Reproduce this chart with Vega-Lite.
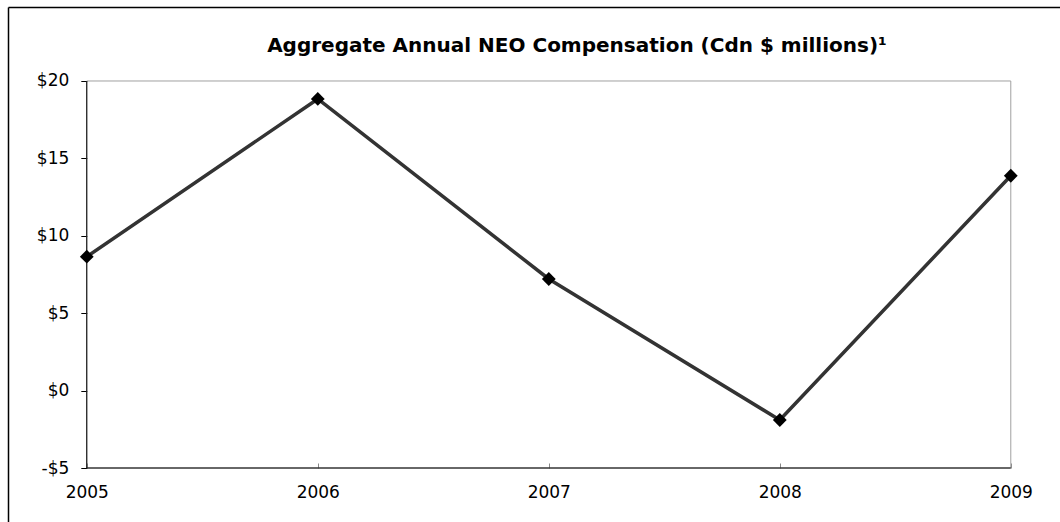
{
  "$schema": "https://vega.github.io/schema/vega-lite/v6.json",
  "width": 1052,
  "height": 515,
  "padding": {"left": 8, "top": 7, "right": 0, "bottom": 0},
  "autosize": {"type": "none"},
  "background": "white",
  "config": {
    "view": {"stroke": null},
    "axis": {"grid": false, "labelFont": "DejaVu Sans", "labelFontSize": 17, "labelColor": "black", "title": null}
  },
  "title": {
    "text": "Aggregate Annual NEO Compensation (Cdn $ millions)¹",
    "font": "DejaVu Sans",
    "fontSize": 20,
    "fontWeight": "bold",
    "color": "black",
    "anchor": "middle",
    "frame": "group",
    "baseline": "alphabetic",
    "offset": -65,
    "dx": 43
  },
  "data": {
    "values": [
      {"year": 2005, "comp": 8.65},
      {"year": 2006, "comp": 18.84},
      {"year": 2007, "comp": 7.21},
      {"year": 2008, "comp": -1.9},
      {"year": 2009, "comp": 13.88}
    ]
  },
  "resolve": {"axis": {"x": "independent", "y": "independent"}},
  "layer": [
    {
      "data": {"values": [{}]},
      "mark": {"type": "rect", "fill": null, "stroke": "#a0a0a0", "strokeWidth": 1},
      "encoding": {
        "x": {"datum": 2005, "type": "quantitative",
              "scale": {"domain": [2004.659, 2009.213], "nice": false, "zero": false},
              "axis": {"orient": "top", "domainColor": "black", "domainWidth": 1.5, "ticks": false, "labels": false}},
        "x2": {"datum": 2009},
        "y": {"datum": -5, "type": "quantitative",
              "scale": {"domain": [-8.488, 24.78], "nice": false, "zero": false},
              "axis": {"orient": "left", "domainColor": "black", "domainWidth": 1.5, "ticks": false, "labels": false}},
        "y2": {"datum": 20}
      }
    },
    {
      "data": {"values": [{}]},
      "mark": {"type": "rule", "color": "black", "strokeWidth": 1},
      "encoding": {
        "x": {"datum": 2005, "type": "quantitative", "axis": null},
        "y": {"datum": -5, "type": "quantitative", "axis": null},
        "y2": {"datum": 20}
      }
    },
    {
      "data": {"values": [{}]},
      "mark": {"type": "rule", "color": "black", "strokeWidth": 1},
      "encoding": {
        "x": {"datum": 2005, "type": "quantitative", "axis": null},
        "x2": {"datum": 2009},
        "y": {"datum": -5, "type": "quantitative", "axis": null}
      }
    },
    {
      "mark": {"type": "line", "color": "#333333", "strokeWidth": 3.5},
      "encoding": {
        "x": {"field": "year", "type": "quantitative",
              "axis": {"orient": "bottom", "offset": -54, "domain": false, "values": [2005, 2006, 2007, 2008, 2009],
                       "format": "d", "tickSize": -5, "tickColor": "#888888", "labelPadding": 21}},
        "y": {"field": "comp", "type": "quantitative",
              "axis": {"orient": "left", "offset": -78.8, "domain": false, "values": [-5, 0, 5, 10, 15, 20],
                       "tickSize": 6, "tickColor": "black", "labelPadding": 12,
                       "labelExpr": "datum.value < 0 ? '-$' + abs(datum.value) : '$' + datum.value"}}
      }
    },
    {
      "mark": {"type": "point", "shape": "diamond", "filled": true, "color": "black", "size": 190, "opacity": 1},
      "encoding": {
        "x": {"field": "year", "type": "quantitative", "axis": null},
        "y": {"field": "comp", "type": "quantitative", "axis": null}
      }
    }
  ]
}
